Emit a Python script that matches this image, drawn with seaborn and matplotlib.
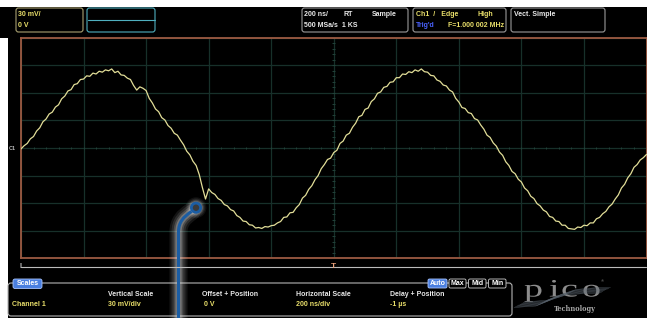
import numpy as np
import pandas as pd
import seaborn as sns
import matplotlib.pyplot as plt
from matplotlib.patches import Rectangle, FancyBboxPatch, Circle, PathPatch
from matplotlib.path import Path
from matplotlib.textpath import TextPath
from matplotlib.font_manager import FontProperties
from matplotlib.transforms import Affine2D

# ---------------------------------------------------------------
# Oscilloscope capture: Channel 1, 1 MHz sine, 200 ns/div, 30 mV/div
# ---------------------------------------------------------------

time_start_ns = -1000
sample_step_ns = 10
ch1_mv = [
    -1, 2.5, 5, 10, 12.5, 18.5, 22, 28.5, 31.5, 37,
    39, 44.5, 47, 53.5, 56.5, 62, 63.5, 69, 70, 74.5,
    75, 78.5, 78, 81.5, 80.5, 83.5, 82.5, 85, 84, 86,
    82, 83.5, 79.5, 79, 76, 74.5, 68, 63, 66.5, 65,
    62.5, 54, 49, 42.5, 39.5, 33, 30.5, 24.5, 21.5, 16,
    14, 8.5, 3.5, -3.5, -7.5, -14.5, -19, -29, -43, -55.5,
    -44.5, -48.5, -50.5, -55, -57, -61.5, -63, -67, -68.5, -73.5,
    -75.5, -79.5, -80, -83.5, -84, -87, -86.5, -87.5, -85.5, -86,
    -84.5, -84, -81.5, -80, -75.5, -75, -70.5, -70, -65, -61.5,
    -54.5, -51.5, -45, -41, -34.5, -30, -22.5, -18, -12.5, -11,
    -5, -2.5, 5, 7.5, 14, 16, 22.5, 27, 34, 35.5,
    42, 43.5, 50.5, 53.5, 59.5, 61, 66, 67, 71.5, 72,
    76.5, 76.5, 80.5, 80, 83, 82, 85, 83.5, 86, 83,
    82.5, 79, 78.5, 74, 72.5, 68.5, 67.5, 63, 61, 54,
    50, 44, 43, 38.5, 37.5, 32, 30.5, 25, 20.5, 14,
    11.5, 5.5, 2, -4.5, -8, -15, -19, -25.5, -28, -34,
    -37, -43.5, -46.5, -52.5, -55, -60.5, -63, -67.5, -69.5, -74.5,
    -75.5, -79.5, -80, -84, -84, -87.5, -88, -88.5, -86, -86.5,
    -84, -84.5, -81.5, -81.5, -77, -75.5, -71.5, -69, -64, -61,
    -55.5, -51, -43.5, -39.5, -32.5, -28, -21, -18, -13, -10.5,
    -7,
]
time_ns = time_start_ns + sample_step_ns * np.arange(len(ch1_mv))

mv_per_div = 30
ns_per_div = 200
h_divs = 10
v_divs = 8

df = pd.DataFrame({"time_ns": time_ns, "mV": ch1_mv})

# colours
TRACE = "#e2de98"
GRID = "#17302a"
BORDER = "#9c5a42"
YELLOW = "#e8de6a"
WHITE = "#e8e8e8"
BOXGREY = "#9a9a9a"

sns.set_theme(style="dark")
plt.rcParams["font.family"] = ["Liberation Sans", "DejaVu Sans"]

W, H = 647, 318
fig = plt.figure(figsize=(W / 100, H / 100), dpi=100, facecolor="black")


def px_axes(x0, y0, x1, y1, **kw):
    return fig.add_axes([x0 / W, 1 - y1 / H, (x1 - x0) / W, (y1 - y0) / H], **kw)


# ---- scope graticule + trace ----
ax = px_axes(21, 37.7, 646.5, 258.3)
ax.set_facecolor("black")
half_t = h_divs / 2 * ns_per_div
half_v = v_divs / 2 * mv_per_div
ax.set_xlim(-half_t, half_t)
ax.set_ylim(-half_v, half_v)
ax.set_xticks(np.arange(-half_t, half_t + 1, ns_per_div))
ax.set_yticks(np.arange(-half_v, half_v + 1, mv_per_div))
ax.set_xticks(np.arange(-half_t, half_t + 1, ns_per_div / 5), minor=True)
ax.set_yticks(np.arange(-half_v, half_v + 1, mv_per_div / 5), minor=True)
ax.tick_params(which="both", direction="in", color="#6a4032", labelbottom=False,
               labelleft=False, length=1.6, width=0.5)
ax.grid(True, which="major", color=GRID, lw=0.9)
for s in ax.spines.values():
    s.set_color(BORDER)
    s.set_linewidth(1.3)

# small ticks on the centre cross
minor_t = np.arange(-half_t, half_t + 1, ns_per_div / 5)
minor_v = np.arange(-half_v, half_v + 1, mv_per_div / 5)
ax.vlines(minor_t, -1.2, 1.2, color="#22423a", lw=0.7)
ax.hlines(minor_v, -5, 5, color="#22423a", lw=0.7)

sns.lineplot(data=df, x="time_ns", y="mV", color=TRACE, lw=0.9, ax=ax,
             legend=False, zorder=3)
ax.set_xlabel("")
ax.set_ylabel("")

# ---- overlay in pixel coordinates ----
ov = fig.add_axes([0, 0, 1, 1], zorder=5)
ov.set_xlim(0, W)
ov.set_ylim(H, 0)
ov.axis("off")
ov.patch.set_alpha(0)

# white frame strips
ov.add_patch(Rectangle((0, 0), W, 6.5, color="white", lw=0))
ov.add_patch(Rectangle((0, 38), 7.5, H - 38, color="white", lw=0))


def box(x0, y0, x1, y1, ec, fc="none", lw=0.8, r=2.5):
    ov.add_patch(FancyBboxPatch((x0, y0), x1 - x0, y1 - y0,
                                boxstyle=f"round,pad=0,rounding_size={r}",
                                ec=ec, fc=fc, lw=lw))


def txt(x, y, s, color=WHITE, size=5, ha="left", **kw):
    ov.text(x, y, s, color=color, fontsize=size, fontweight="bold",
            ha=ha, va="center", **kw)


# top info boxes
box(16, 8, 83, 32, "#a8a070")
txt(18, 14.5, "30 mV/", YELLOW)
txt(18, 25.5, "0 V", YELLOW)

box(87, 8, 155, 32, "#4fb0bf")
ov.plot([87.5, 154.5], [20, 20], color="#4fb0bf", lw=0.8)

box(302, 8, 408, 32, BOXGREY)
txt(304, 14.5, "200 ns/")
txt(344, 14.5, "RT")
txt(372, 14.5, "Sample")
txt(304, 25.5, "500 MSa/s  1 KS")

box(413, 8, 506, 32, BOXGREY)
txt(416, 14.5, "Ch1  /   Edge", YELLOW)
txt(478, 14.5, "High", YELLOW)
txt(416, 25.5, "Trig'd", "#4a62ff")
txt(504, 25.5, "F=1.000 002 MHz", YELLOW, ha="right")

box(511, 8, 605, 32, BOXGREY)
txt(514, 14.5, "Vect. Simple")

# channel marker
txt(8.5, 148.3, "C1", "#b8b8b8", size=4)

# timebase strip under the graticule
ov.plot([21, 646], [266.7, 266.7], color="#bcbcbc", lw=0.8)
txt(21, 266.7, "I", "#c8c8c8", size=5, ha="center")
txt(333.5, 266.2, "T", "#e8a07a", size=6, ha="center")

# scales panel
box(8, 283, 512, 316, "#b4b4b4", lw=0.8, r=3)
box(13, 279, 42, 288.5, "#a8c4ff", fc="#4a7fe0", lw=0.6, r=2)
txt(27.5, 283.8, "Scales", "white", ha="center")
txt(12, 305, "Channel 1", YELLOW)
cols = [(108, "Vertical Scale", "30 mV/div"),
        (202, "Offset + Position", " 0 V"),
        (296, "Horizontal Scale", "200 ns/div"),
        (390, "Delay + Position", "-1 \u00b5s")]
for x, head, val in cols:
    txt(x, 295, head)
    txt(x, 305, val, YELLOW)

btns = [(428, 447, "Auto"), (449, 466, "Max"), (468.5, 486, "Mid"), (488.5, 506, "Min")]
for i, (x0, x1, lab) in enumerate(btns):
    if i == 0:
        box(x0, 279, x1, 288, "#a8c4ff", fc="#4a7fe0", lw=0.6, r=1.5)
    else:
        box(x0, 279, x1, 288, "#d0d0d0", fc="black", lw=0.6, r=1.5)
    txt((x0 + x1) / 2, 283.6, lab, "white", ha="center")

# pico logo: wide serif letters, stretched horizontally
fp = FontProperties(family="Liberation Serif")
for x, ch in [(524, "p"), (549, "i"), (561, "c"), (582, "o")]:
    tp = TextPath((0, 0), ch, size=1, prop=fp)
    tr = Affine2D().scale(38, -25).translate(x, 296.5)
    ov.add_patch(PathPatch(tr.transform_path(tp), fc="#8c8c8c", ec="none"))
ov.text(602, 281.5, "\u00ae", color="#8a8a8a", fontsize=3, ha="center", va="center")
for k in range(8):
    xs = np.array([514, 536, 552, 566, 584, 600])
    ys = np.array([307.5, 306, 299.5, 295, 293.5, 293]) - k * 0.8
    ov.plot(xs + k * 1.5, ys, color="#5c6670", lw=0.3, alpha=0.9)
ov.text(575, 309, "Technology", color="#a8a8a8", fontsize=4.8, family="DejaVu Serif",
        fontweight="bold", ha="center", va="center")

# callout pointer with soft glow
verts = [(191.5, 211.5), (183.5, 217), (178.5, 222), (178.5, 232), (178.5, 320)]
codes = [Path.MOVETO, Path.CURVE4, Path.CURVE4, Path.CURVE4, Path.LINETO]
pth = Path(verts, codes)
for lw, a in [(13, 0.09), (10, 0.12), (7, 0.18), (4.5, 0.28)]:
    ov.add_patch(PathPatch(pth, fc="none", ec="#e0e0e0", lw=lw, alpha=a,
                           capstyle="round"))
    ov.add_patch(Circle((196, 207.7), 5 + lw / 2.4, fc="#e0e0e0", ec="none", alpha=a * 0.8))
ov.add_patch(Circle((196, 207.7), 4.4, fc="#3a3a3a", ec="none"))
ov.add_patch(PathPatch(pth, fc="none", ec="#1b5da3", lw=2.2))
ov.add_patch(Circle((196, 207.7), 4.6, fc="none", ec="#1b5da3", lw=2.0))

fig.savefig("out.png", dpi=100, facecolor="black")
